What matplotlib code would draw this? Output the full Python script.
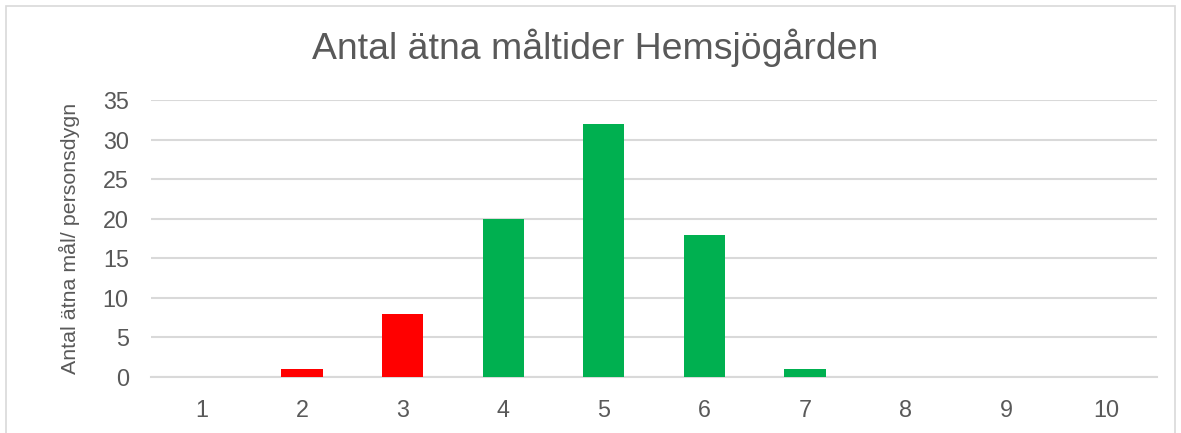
import matplotlib.pyplot as plt
from matplotlib.patches import Rectangle

plt.rcParams['font.family'] = ['Liberation Sans', 'DejaVu Sans']

categories = ['1', '2', '3', '4', '5', '6', '7', '8', '9', '10']
values = [0, 1, 8, 20, 32, 18, 1, 0, 0, 0]
bar_colors = ['#FF0000', '#FF0000', '#FF0000', '#00B050', '#00B050',
              '#00B050', '#00B050', '#00B050', '#00B050', '#00B050']
yticks = [0, 5, 10, 15, 20, 25, 30, 35]

TEXT = '#595959'
GRID = '#D9D9D9'

fig = plt.figure(figsize=(11.81, 4.33), dpi=100)
ax = fig.add_axes([0.1279, 0.1293, 0.8518, 0.6397])

x = range(len(categories))
ax.bar(x, values, width=0.41, color=bar_colors, zorder=3)

ax.set_xlim(-0.5, len(categories) - 0.5)
ax.set_ylim(0, 35)
ax.set_yticks(yticks)
ax.set_xticks(list(x))
ax.set_xticklabels(categories)
ax.yaxis.grid(True, color=GRID, linewidth=1.5, zorder=0)
ax.tick_params(axis='both', length=0, labelsize=16.8, labelcolor=TEXT)
ax.tick_params(axis='y', pad=16)
ax.tick_params(axis='x', pad=16)
for s in ['top', 'right', 'left']:
    ax.spines[s].set_visible(False)
ax.spines['bottom'].set_color(GRID)
ax.spines['bottom'].set_linewidth(1.5)

ax.set_ylabel('Antal ätna mål/ personsdygn', fontsize=15.4, color=TEXT, labelpad=16)
fig.text(0.504, 0.89, 'Antal ätna måltider Hemsjögården', ha='center', va='center',
         fontsize=26.9, color=TEXT)

# chart border
fig.patches.append(Rectangle((0.005, -0.02), 0.99, 1.006, transform=fig.transFigure,
                             fill=False, edgecolor='#D9D9D9', linewidth=1.2))

fig.savefig('out.png', dpi=100)
